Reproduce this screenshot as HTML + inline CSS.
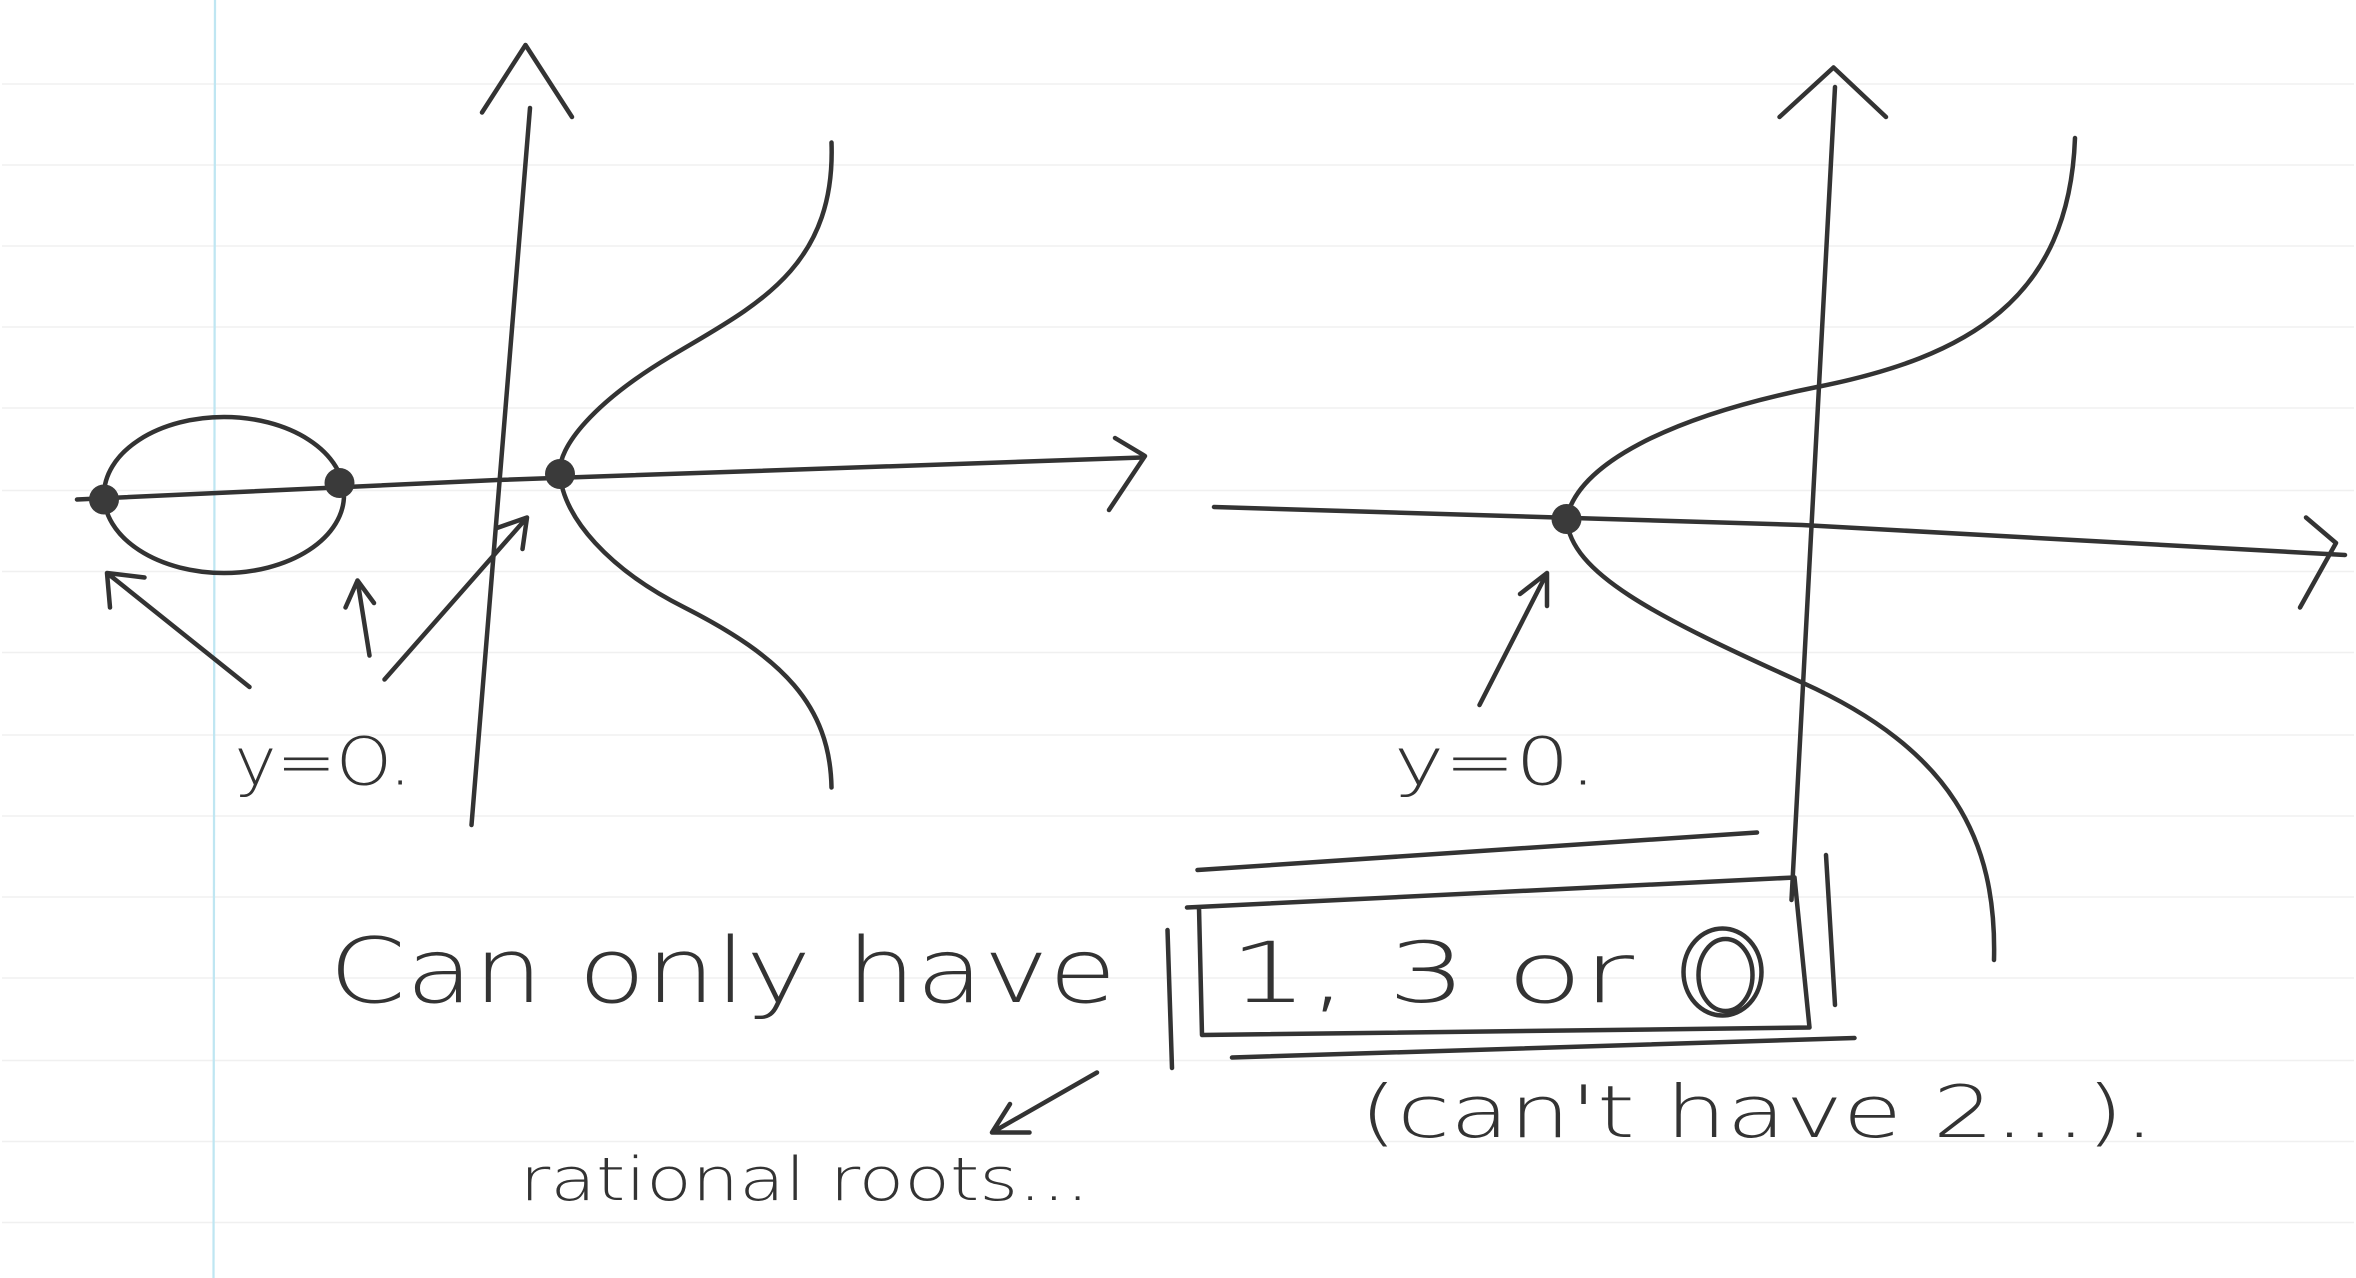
<!DOCTYPE html>
<html><head><meta charset="utf-8"><style>
html,body{margin:0;padding:0;background:#fff;}
svg{display:block;}
text{font-family:"DejaVu Sans","Liberation Sans",sans-serif;fill:#333;font-weight:300;}
</style></head><body>
<svg width="2356" height="1278" viewBox="0 0 1568 852" xmlns="http://www.w3.org/2000/svg">
<g stroke="#f0f0f0" stroke-width="1">
<line x1="0" y1="56" x2="1568" y2="56"/><line x1="0" y1="110" x2="1568" y2="110"/><line x1="0" y1="164" x2="1568" y2="164"/><line x1="0" y1="218" x2="1568" y2="218"/><line x1="0" y1="272" x2="1568" y2="272"/><line x1="0" y1="327" x2="1568" y2="327"/><line x1="0" y1="381" x2="1568" y2="381"/><line x1="0" y1="435" x2="1568" y2="435"/><line x1="0" y1="490" x2="1568" y2="490"/><line x1="0" y1="544" x2="1568" y2="544"/><line x1="0" y1="598" x2="1568" y2="598"/><line x1="0" y1="652" x2="1568" y2="652"/><line x1="0" y1="707" x2="1568" y2="707"/><line x1="0" y1="761" x2="1568" y2="761"/><line x1="0" y1="815" x2="1568" y2="815"/>
</g>
<line x1="142" y1="0" x2="141" y2="852" stroke="#bfe6f2" stroke-width="1.5"/>
<g fill="none" stroke="#333" stroke-width="3" stroke-linecap="round" stroke-linejoin="round">
<g>
<path d="M352,72 L313,550"/>
<path d="M320,75 L349,30 L380,78"/>
<path d="M50,333 L330,320 L760,305"/>
<path d="M742,292 L762,304 L738,340"/>
<ellipse cx="148" cy="330" rx="80" ry="52"/>
<path d="M553,95 C556,180 500,205 445,238 C395,268 370,298 372,316 C374,345 405,380 455,405 C520,438 552,470 553,525"/>
<path d="M165,458 L70,382 M70,382 L72,405 M70,382 L95,385"/>
<path d="M245,437 L237,387 M237,387 L229,405 M237,387 L248,402"/>
<path d="M255,453 L350,345 M350,345 L330,352 M350,345 L347,366"/>
</g>
<g>
<path d="M808,338 L1200,350 L1562,370"/>
<path d="M1536,345 L1556,362 L1532,405"/>
<path d="M1222,58 L1193,600"/>
<path d="M1185,78 L1221,45 L1256,78"/>
<path d="M1382,92 C1378,200 1310,238 1210,258 C1110,278 1050,310 1043,346 C1046,382 1100,410 1200,455 C1300,500 1330,560 1328,640"/>
<path d="M985,470 L1030,382 M1030,382 L1012,396 M1030,382 L1030,404"/>
</g>
<g>
<path d="M797,580 L1170,555"/>
<path d="M790,605 L1195,585 L1205,685 L800,690 L798,605"/>
<path d="M820,705 L1235,692"/>
<path d="M777,620 L780,712"/>
<path d="M1216,570 L1222,670"/>
<path d="M730,715 L660,755 M660,755 L685,755 M660,755 L672,736"/>
<ellipse cx="1147" cy="648" rx="26" ry="29"/>
<ellipse cx="1149" cy="650" rx="18" ry="24"/>
</g>
</g>
<g fill="#3a3a3a">
<circle cx="68" cy="333" r="10"/><circle cx="225" cy="322" r="10"/><circle cx="372" cy="316" r="10"/><circle cx="1043" cy="346" r="10"/>
</g>
<text x="155" y="523" font-size="44" textLength="118" lengthAdjust="spacingAndGlyphs">y=O.</text>
<text x="928" y="523" font-size="44" textLength="135" lengthAdjust="spacingAndGlyphs">y=0.</text>
<text x="218" y="668" font-size="60" textLength="525" lengthAdjust="spacingAndGlyphs">Can only have</text>
<text x="818" y="668" font-size="56" textLength="270" lengthAdjust="spacingAndGlyphs">1, 3 or</text>
<text x="905" y="758" font-size="48" textLength="530" lengthAdjust="spacingAndGlyphs">(can't have 2...).</text>
<text x="345" y="800" font-size="40" textLength="380" lengthAdjust="spacingAndGlyphs">rational roots...</text>
</svg>
</body></html>
